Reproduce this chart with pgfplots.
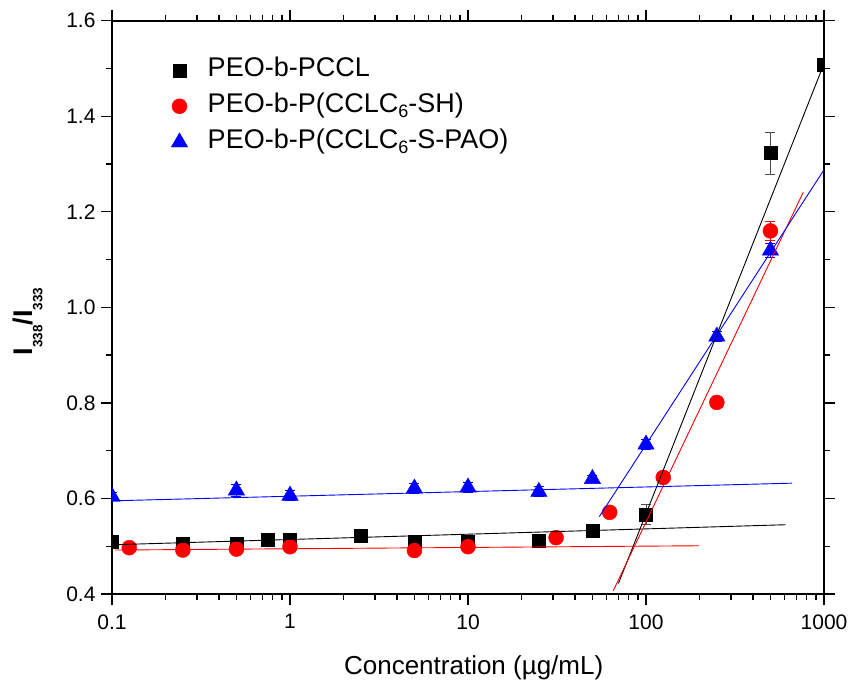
\documentclass[border=0pt]{standalone}
\usepackage{fontspec}
\setmainfont{Liberation Sans}
\usepackage{pgfplots}
\pgfplotsset{compat=1.18}
\definecolor{myred}{RGB}{255,0,0}
\definecolor{myblue}{RGB}{0,0,255}
\newcommand{\lsub}[1]{\raisebox{-5pt}{\fontsize{18}{18}\selectfont #1}}
\newcommand{\ysub}[1]{\raisebox{-9.5pt}{\fontsize{13.5}{13.5}\selectfont\bfseries #1}}
\begin{document}
\begin{tikzpicture}
\begin{axis}[
  scale only axis,
  width=712pt, height=573.3pt,
  xmode=log,
  xmin=0.1, xmax=1000,
  ymin=0.4, ymax=1.6,
  xtick={0.1,1,10,100,1000},
  xticklabels={0.1,1,10,100,1000},
  ytick={0.4,0.6,0.8,1.0,1.2,1.4,1.6},
  yticklabels={0.4,0.6,0.8,1.0,1.2,1.4,1.6},
  minor y tick num=1,
  tick align=outside,
  major tick length=11pt,
  minor tick length=6pt,
  every tick/.style={black, line width=1.4pt},
  axis line style={line width=2pt},
  tick label style={font=\fontsize{21}{25}\selectfont},
  xticklabel style={yshift=-6pt},
  yticklabel style={xshift=-2pt},
  xlabel={Concentration (µg/mL)},
  xlabel style={font=\fontsize{26}{30}\selectfont, at={(rel axis cs:0.508,-0.1396)}, anchor=base, inner sep=0pt},
  ylabel={\textbf{I\ysub{338}/I\ysub{333}}},
  ylabel style={font=\fontsize{27}{30}\selectfont, at={(rel axis cs:-0.111,0.475)}, anchor=base, inner sep=0pt},
  clip marker paths=true,
  legend style={draw=none, fill=none, at={(rel axis cs:0.083,0.94)}, anchor=north west,
    inner sep=0pt, font=\fontsize{27}{30}\selectfont, row sep=6pt,
    nodes={inner xsep=3pt, inner ysep=1pt, text height=20pt, text depth=8pt},
    /tikz/every odd column/.append style={column sep=17pt}},
  legend cell align=left,
]
% data
\addplot[only marks, mark=square*, mark size=6.5pt, black,
  error bars/.cd, y dir=both, y explicit, error bar style={black!70, line width=1pt}, error mark options={black!70, line width=1pt, mark size=5pt, rotate=90}]
  coordinates {
  (0.1,0.510) +- (0,0.005)
  (0.25,0.506) +- (0,0.005)
  (0.5,0.505) +- (0,0.005)
  (0.75,0.513) +- (0,0.004)
  (1,0.513) +- (0,0.004)
  (2.5,0.522) +- (0,0.004)
  (5,0.510) +- (0,0.005)
  (10,0.510) +- (0,0.005)
  (25,0.512) +- (0,0.005)
  (50,0.532) +- (0,0.005)
  (100,0.567) +- (0,0.021)
  (500,1.323) +- (0,0.044)
  (1000,1.508) +- (0,0.005)
  };
\addlegendentry{PEO-b-PCCL}
\addplot[only marks, mark=*, mark size=7.5pt, myred,
  error bars/.cd, y dir=both, y explicit, error bar style={myred, line width=1pt}, error mark options={myred, line width=1pt, mark size=5pt, rotate=90}]
  coordinates {
  (0.125,0.497) +- (0,0.005)
  (0.25,0.492) +- (0,0.006)
  (0.5,0.494) +- (0,0.006)
  (1,0.499) +- (0,0.006)
  (5,0.491) +- (0,0.005)
  (10,0.499) +- (0,0.005)
  (31.25,0.518) +- (0,0.005)
  (62.5,0.571) +- (0,0.005)
  (125,0.644) +- (0,0.006)
  (250,0.801) +- (0,0.010)
  (500,1.160) +- (0,0.020)
  };
\addlegendentry{PEO-b-P(CCLC\lsub{6}-SH)}
\addplot[only marks, mark=triangle*, mark size=9.5pt, myblue,
  error bars/.cd, y dir=both, y explicit, error bar style={myblue, line width=1pt}, error mark options={myblue, line width=1pt, mark size=5pt, rotate=90}]
  coordinates {
  (0.1,0.604) +- (0,0.008)
  (0.5,0.617) +- (0,0.012)
  (1,0.606) +- (0,0.010)
  (5,0.621) +- (0,0.010)
  (10,0.623) +- (0,0.010)
  (25,0.614) +- (0,0.010)
  (50,0.641) +- (0,0.008)
  (100,0.713) +- (0,0.010)
  (250,0.939) +- (0,0.010)
  (500,1.119) +- (0,0.015)
  };
\addlegendentry{PEO-b-P(CCLC\lsub{6}-S-PAO)}
% fit lines
\addplot[black, line width=0.9pt, forget plot] coordinates {(0.1,0.503) (609,0.545)};
\addplot[black, line width=0.9pt, forget plot] coordinates {(70,0.422) (1000,1.51)};
\addplot[myred, line width=0.9pt, forget plot] coordinates {(0.104,0.492) (199,0.501)};
\addplot[myred, line width=0.9pt, forget plot] coordinates {(65.5,0.407) (765,1.241)};
\addplot[myblue, line width=0.9pt, forget plot] coordinates {(0.1,0.595) (663,0.632)};
\addplot[myblue, line width=0.9pt, forget plot] coordinates {(54.7,0.562) (1000,1.288)};
\coordinate (bl) at (rel axis cs:-0.1573,-0.1483);
\coordinate (tr) at (rel axis cs:1.0365,1.0361);
\end{axis}
\pgfresetboundingbox
\path[use as bounding box] (bl) rectangle (tr);
\end{tikzpicture}
\end{document}
